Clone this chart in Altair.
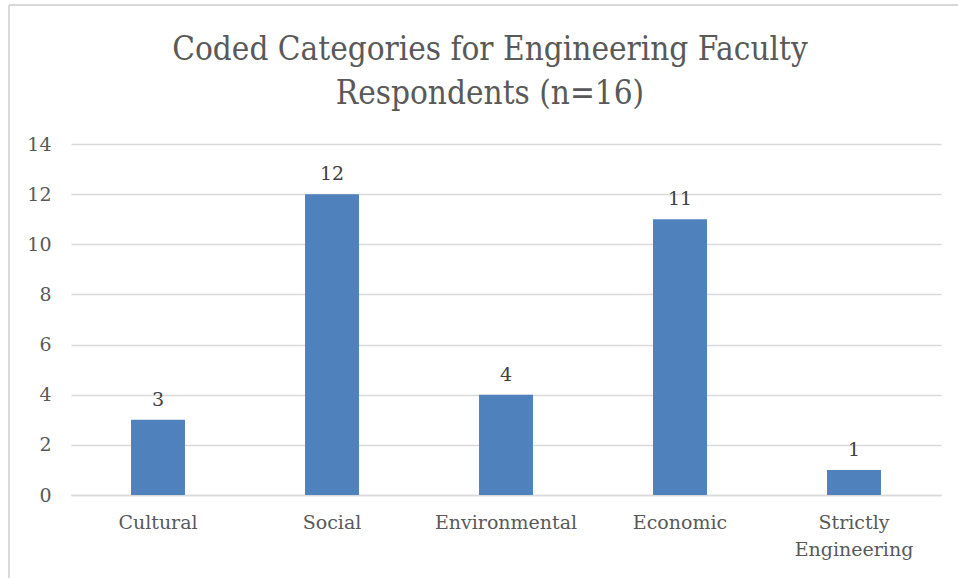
import altair as alt
import pandas as pd

# Coded categories and respondent counts
categories = ["Cultural", "Social", "Environmental", "Economic", "Strictly\nEngineering"]
counts = [3, 12, 4, 11, 1]

df = pd.DataFrame({"category": categories, "count": counts})

FONT = "DejaVu Serif"
TITLE_FONT = "DejaVu Serif Condensed"
BAR_COLOR = "#4F81BD"
GRID = "#D9D9D9"

x_enc = alt.X(
    "category:N",
    sort=categories,
    title=None,
    scale=alt.Scale(paddingInner=0.69, paddingOuter=0.345),
    axis=alt.Axis(
        labelAngle=0,
        labelFont=FONT,
        labelFontSize=19,
        labelColor="#595959",
        labelPadding=18,
        labelLineHeight=27,
        labelExpr="split(datum.label, '\\n')",
        ticks=False,
        domain=True,
        domainColor=GRID,
        domainWidth=1.5,
        grid=False,
    ),
)

y_enc = alt.Y(
    "count:Q",
    title=None,
    scale=alt.Scale(domain=[0, 14], nice=False),
    axis=alt.Axis(
        values=[0, 2, 4, 6, 8, 10, 12, 14],
        labelFont=FONT,
        labelFontSize=19,
        labelColor="#595959",
        labelPadding=20,
        ticks=False,
        domain=False,
        grid=True,
        gridColor=GRID,
        gridWidth=1.5,
    ),
)

bars = alt.Chart(df).mark_bar(color=BAR_COLOR).encode(x=x_enc, y=y_enc)

labels = alt.Chart(df).mark_text(
    font=FONT, fontSize=19, color="#404040", baseline="bottom", dy=-10
).encode(x=alt.X("category:N", sort=categories), y="count:Q", text="count:Q")

# outer frame lines of the chart area (left and top edges)
frame_left = alt.Chart(df).mark_rule(color="#D9D9D9", strokeWidth=1.5).encode(
    x=alt.value(-62), y=alt.value(-139), y2=alt.value(440)
)
frame_top = alt.Chart(df).mark_rule(color="#D9D9D9", strokeWidth=1.5).encode(
    x=alt.value(-62), x2=alt.value(900), y=alt.value(-139)
)

chart = (
    alt.layer(frame_left, frame_top, bars, labels)
    .properties(
        width=870,
        height=351,
        title=alt.TitleParams(
            text=["Coded Categories for Engineering Faculty", "Respondents (n=16)"],
            font=TITLE_FONT,
            fontSize=33,
            fontWeight="normal",
            color="#595959",
            anchor="middle",
            frame="group",
            dx=-16,
            lineHeight=44,
            offset=-107,
        ),
        autosize=alt.AutoSizeParams(type="none"),
        padding={"left": 71, "top": 144, "right": 17, "bottom": 83},
        background="white",
    )
    .configure_view(stroke=None)
)

chart.save("out.html", embed_options={"renderer": "svg", "actions": False})
